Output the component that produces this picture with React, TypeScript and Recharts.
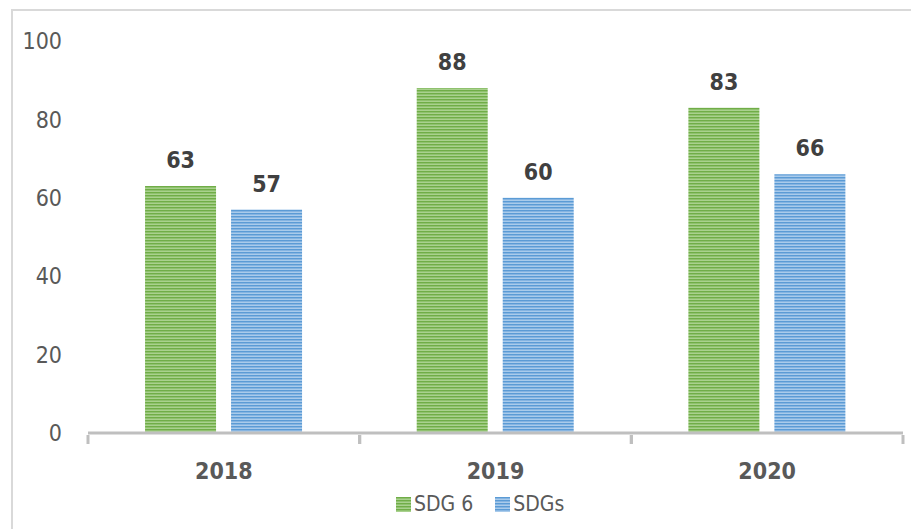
import { Bar, BarChart, LabelList, XAxis, YAxis } from 'recharts'

const years = ['2018', '2019', '2020']
const sdg6 = [63, 88, 83]
const sdgs = [57, 60, 66]
const yTicks = [0, 20, 40, 60, 80, 100]

const data = years.map((year, i) => ({ year, sdg6: sdg6[i], sdgs: sdgs[i] }))

const FONT = '"Liberation Sans Narrow", "DejaVu Sans Condensed", "Roboto", sans-serif'

const series = [
  { key: 'sdg6', name: 'SDG 6', fill: 'url(#stripeGreen)' },
  { key: 'sdgs', name: 'SDGs', fill: 'url(#stripeBlue)' },
]

function YearTick(props: any) {
  const { x, y, payload } = props
  const half = payload.offset || 0
  return (
    <g>
      <line x1={x - half} y1={y - 6} x2={x - half} y2={y + 3} stroke="#bfbfbf" strokeWidth={3} />
      <line x1={x + half} y1={y - 6} x2={x + half} y2={y + 3} stroke="#bfbfbf" strokeWidth={3} />
      <text x={x} y={y + 38} textAnchor="middle" fontFamily={FONT} fontWeight="bold" fontSize={23} fill="#595959">
        {payload.value}
      </text>
    </g>
  )
}

function Stripes() {
  return (
    <defs>
      <pattern id="stripeGreen" width={6} height={3} patternUnits="userSpaceOnUse">
        <rect width={6} height={3} fill="#a9d18e" />
        <rect width={6} height={1.4} fill="#70ad47" />
        <rect y={1.4} width={6} height={0.5} fill="#8cc06a" />
      </pattern>
      <pattern id="stripeBlue" width={6} height={3} patternUnits="userSpaceOnUse">
        <rect width={6} height={3} fill="#a9cbeb" />
        <rect width={6} height={1.4} fill="#5b9bd5" />
        <rect y={1.4} width={6} height={0.5} fill="#7fb1e0" />
      </pattern>
    </defs>
  )
}

// legend drawn as plain html so it does not eat into the plot height
function LegendBox() {
  return (
    <div
      style={{
        position: 'absolute',
        left: 396,
        top: 492,
        display: 'flex',
        alignItems: 'center',
        fontFamily: FONT,
        fontSize: 21,
        color: '#595959',
      }}
    >
      {series.map((s) => (
        <div key={s.key} style={{ display: 'flex', alignItems: 'center', marginRight: 22 }}>
          <svg width={15} height={15} style={{ marginRight: 3 }}>
            <rect width={15} height={15} fill={s.fill} />
          </svg>
          <span>{s.name}</span>
        </div>
      ))}
    </div>
  )
}

export default function App() {
  return (
    <div style={{ position: 'absolute', left: 0, top: 0, width: 911, height: 529, overflow: 'hidden', background: '#fff' }}>
      <div style={{ position: 'absolute', left: 11, top: 9, width: 1000, height: 1000, border: '2px solid #d9d9d9' }} />
      <BarChart
        width={911}
        height={529}
        data={data}
        margin={{ top: 41, right: 8, left: 0, bottom: 0 }}
        barCategoryGap="21%"
        barGap={15}
      >
        <Stripes />
        <XAxis
          dataKey="year"
          axisLine={{ stroke: '#bfbfbf', strokeWidth: 3 }}
          tickLine={false}
          tick={<YearTick />}
          interval={0}
          height={96}
        />
        <YAxis
          domain={[0, 100]}
          ticks={yTicks}
          width={88}
          axisLine={false}
          tickLine={false}
          tickSize={0}
          tickMargin={26}
          tick={{ fill: '#595959', fontSize: 23, fontFamily: FONT }}
        />
        {series.map((s) => (
          <Bar key={s.key} dataKey={s.key} name={s.name} fill={s.fill} isAnimationActive={false}>
            <LabelList
              dataKey={s.key}
              position="top"
              offset={18}
              fill="#404040"
              fontSize={23}
              fontWeight="bold"
              fontFamily={FONT}
            />
          </Bar>
        ))}
      </BarChart>
      <LegendBox />
    </div>
  )
}
